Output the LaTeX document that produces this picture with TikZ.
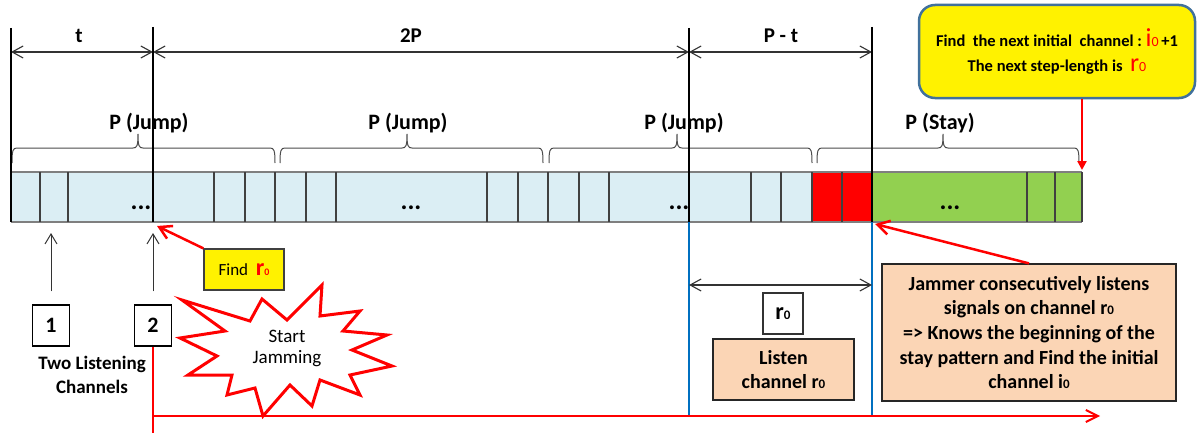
\documentclass[tikz,border=0pt]{standalone}
\usepackage{fontspec}
\setmainfont{Carlito}
\usetikzlibrary{arrows.meta}
\definecolor{lblue}{HTML}{DBEEF4}
\definecolor{bargreen}{HTML}{92D050}
\definecolor{peach}{HTML}{FBD5B5}
\definecolor{lineblue}{HTML}{0070C0}
\definecolor{ybord}{HTML}{41719C}
\definecolor{cellgray}{HTML}{404040}
\definecolor{edgegray}{HTML}{7F7F7F}
\begin{document}
\begin{tikzpicture}[x=1pt,y=-1pt,
 thickv/.style={line width=2.2pt, draw=black},
 dimarr/.style={line width=1.1pt, draw=black!80, {Straight Barb[length=11pt,width=12pt]}-{Straight Barb[length=11pt,width=12pt]}},
 cellline/.style={line width=1.3pt, draw=cellgray},
 bracest/.style={line width=1pt, draw=black!70},
 toplab/.style={font=\fontsize{21}{25}\selectfont\bfseries, anchor=base, inner sep=0pt},
 plab/.style={font=\fontsize{22}{26}\selectfont\bfseries, anchor=base, inner sep=0pt},
 dotlab/.style={font=\fontsize{26}{30}\selectfont\bfseries, anchor=base, inner sep=0pt},
 numbox/.style={draw=black, line width=1.2pt, fill=white, minimum width=37pt, minimum height=41pt, inner sep=0pt, font=\fontsize{22}{26}\selectfont\bfseries},
 peachbox/.style={draw=black!85, line width=1.2pt, fill=peach, inner sep=0pt, align=center, font=\fontsize{20}{24.6}\selectfont\bfseries},
 redarr/.style={draw=red, line width=2.5pt, -{Straight Barb[length=12pt,width=14pt]}},
 redline/.style={draw=red, line width=2pt},
 thinup/.style={draw=black!80, line width=1pt, -{Straight Barb[length=10pt,width=12pt]}},
 blueline/.style={draw=lineblue, line width=1.6pt},
]
\useasboundingbox (0,0) rectangle (1197,436);
\fill[white] (0,0) rectangle (1197,436);

% coordinates
\coordinate (d0) at (11,52);
\coordinate (d1) at (153,52);
\coordinate (d2) at (689,52);
\coordinate (d3) at (872,52);
\coordinate (e0) at (689,285);
\coordinate (e1) at (872,285);
\coordinate (bl0a) at (689,222);
\coordinate (bl0b) at (689,416);
\coordinate (bl1a) at (872,222);
\coordinate (bl1b) at (872,416);
\coordinate (rh0) at (153,416);
\coordinate (rh1) at (1100,416);
\coordinate (rv1) at (153,433);
\coordinate (tipy) at (0,233);
\coordinate (tipfr) at (157,226);
\coordinate (tipjb) at (875,224);
\coordinate (tipyb) at (1082,170);

% top dimension arrows
\node[toplab] (lt) at (79,43) {t};
\node[toplab] (l2p) at (411,43) {2P};
\node[toplab] (lpt) at (781,43) {P - t};
\draw[dimarr] (d0) -- (d1);
\draw[dimarr] (d1) -- (d2);
\draw[dimarr] (d2) -- (d3);

% braces
\draw[bracest] (12,163) .. controls (12,150) and (13,148) .. (17,148) -- (133,148)
  .. controls (137,148) and (138,146) .. (138,134) .. controls (138,146) and (139,148) .. (143,148)
  -- (270,148) .. controls (274,148) and (275,150) .. (275,163);
\draw[bracest] (280,163) .. controls (280,150) and (281,148) .. (285,148) -- (402,148)
  .. controls (406,148) and (407,146) .. (407,134) .. controls (407,146) and (408,148) .. (412,148)
  -- (538,148) .. controls (542,148) and (543,150) .. (543,163);
\draw[bracest] (549,163) .. controls (549,150) and (550,148) .. (554,148) -- (672,148)
  .. controls (676,148) and (677,146) .. (677,134) .. controls (677,146) and (678,148) .. (682,148)
  -- (807,148) .. controls (811,148) and (812,150) .. (812,163);
\draw[bracest] (817,163) .. controls (817,150) and (818,148) .. (822,148) -- (938,148)
  .. controls (942,148) and (943,146) .. (943,134) .. controls (943,146) and (944,148) .. (948,148)
  -- (1074,148) .. controls (1078,148) and (1079,150) .. (1079,163);
\node[plab] (pj1) at (149,129) {P (Jump)};
\node[plab] (pj2) at (408,129) {P (Jump)};
\node[plab] (pj3) at (684,129) {P (Jump)};
\node[plab] (ps) at (940,129) {P (Stay)};

% bar
\fill[lblue] (12,172) rectangle (812,222);
\fill[red] (812,172) rectangle (872,222);
\fill[bargreen] (872,172) rectangle (1082,222);
\draw[edgegray, line width=1.5pt] (11,172) -- (1082,172) (11,222) -- (1082,222);
\foreach \cx in {40,68,214,245,275,306,336,487,518,548,579,609,751,781,812,842,1027,1055,1082}
  \draw[cellline] (\cx,172) -- (\cx,222);
\node[dotlab] (dt1) at (141,209) {...};
\node[dotlab] (dt2) at (411,209) {...};
\node[dotlab] (dt3) at (679,209) {...};
\node[dotlab] (dt4) at (950,209) {...};

% thick vertical lines
\draw[thickv] (11,28) -- (11,222);
\draw[thickv] (153,27) -- (153,222);
\draw[thickv] (689,28) -- (689,222);
\draw[thickv] (872,27) -- (872,222);

% top-right yellow box
\node[draw=ybord, line width=2.5pt, fill=yellow, rounded corners=16pt, minimum width=276pt, minimum height=93pt, inner sep=0pt, align=center, font=\fontsize{16.5}{25}\selectfont\bfseries] (yb) at (1057,51.5)
 {Find\ \ the next initial\ \ channel :\ {\color{red}\mdseries\fontsize{26}{26}\selectfont i\fontsize{14}{14}\selectfont 0}\,+1\\
  The next step-length is\ \ {\color{red}\mdseries\fontsize{26}{26}\selectfont r\fontsize{14}{14}\selectfont 0}};
\draw[draw=red, line width=2.5pt, -{Triangle[length=9pt,width=9pt]}] (yb.south -| tipyb) -- (tipyb);

% blue lines and lower dimension
\draw[blueline] (bl0a) -- (bl0b);
\draw[blueline] (bl1a) -- (bl1b);
\draw[dimarr] (e0) -- (e1);

% listening channels
\node[numbox] (b1) at (51,325.5) {1};
\node[numbox] (b2) at (153,325.5) {2};
\draw[thinup] ([yshift=13pt]b1.north) -- (b1.north |- tipy);
\draw[thinup] ([yshift=13pt]b2.north) -- (b2.north |- tipy);
\node[align=center, inner sep=0pt, font=\fontsize{19}{24}\selectfont\bfseries] (tlc) at (92,375) {Two Listening\\Channels};

% Find r0
\node[draw=black!75, line width=1.2pt, fill=yellow, minimum width=80pt, minimum height=41pt, inner sep=0pt, font=\fontsize{17}{20}\selectfont] (fr) at (244,269.5)
 {Find\ \ {\color{red}\bfseries\fontsize{24}{24}\selectfont r\fontsize{10}{10}\selectfont 0}};
\draw[redarr] (fr.north west) -- (tipfr);

% red timeline
\draw[redline] (b2.south) -- (rv1);
\draw[redline, -{Straight Barb[length=12pt,width=12pt]}] (rh0) -- (rh1);

% star
\draw[draw=red, line width=3pt, fill=white, line join=miter]
 (182,300) -- (250,321) -- (262,299) -- (287,320) -- (322,285) -- (320,316) -- (360,311)
 -- (343,331) -- (387,335) -- (352,350) -- (392,366) -- (350,375) -- (360,395) -- (320,380)
 -- (312,406) -- (290,385) -- (263,416) -- (255,388) -- (227,395) -- (232,375) -- (188,375)
 -- (217,356) -- (180,338) -- (225,331) -- cycle;
\node[align=center, inner sep=0pt, font=\fontsize{19}{21}\selectfont] (sj) at (287,348.5) {Start\\Jamming};

% r0 and listen boxes
\node[draw=black!80, line width=1.2pt, fill=white, minimum width=40pt, minimum height=41pt, inner sep=0pt, font=\bfseries] (rb) at (783,313.5)
 {\fontsize{24}{24}\selectfont r\fontsize{13}{13}\selectfont 0};
\node[peachbox, minimum width=141pt, minimum height=61pt] (lb) at (783.5,369.5)
 {Listen\\channel r{\fontsize{13}{13}\selectfont 0}};
\node[peachbox, minimum width=294pt, minimum height=137pt] (jb) at (1029,332.5)
 {Jammer consecutively listens\\
  signals on channel r{\fontsize{13}{13}\selectfont 0}\\
  => Knows the beginning of the\\
  stay pattern and Find the initial\\
  channel i{\fontsize{13}{13}\selectfont 0}};
\draw[redarr] (jb.north) -- (tipjb);
\end{tikzpicture}
\end{document}
